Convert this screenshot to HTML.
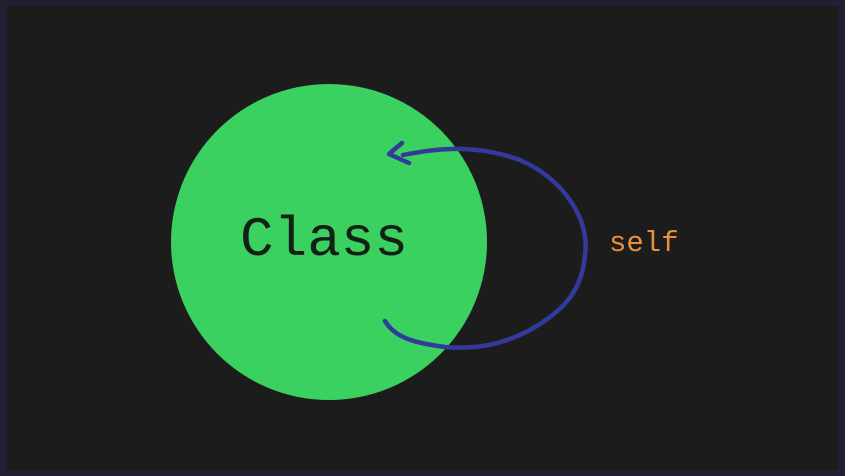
<!DOCTYPE html>
<html><head><style>
html,body{margin:0;padding:0;background:#211e30;width:845px;height:476px;overflow:hidden;}
svg{display:block;}
</style></head><body>
<svg width="845" height="476" xmlns="http://www.w3.org/2000/svg">
<rect x="0" y="0" width="845" height="476" fill="#221f32"/>
<rect x="7" y="6" width="831" height="464" fill="#1c1c1c"/>
<circle cx="329" cy="242" r="158" fill="#3bd160"/>
<text x="324" y="255" font-family="Liberation Mono, monospace" font-size="56" fill="#132015" text-anchor="middle">Class</text>
<text x="609" y="251" font-family="Liberation Mono, monospace" font-size="29" fill="#e8913a">self</text>
<path d="M403,155 C430,150 470,142 520,160 C565,180 590,220 585,255 C582,290 565,310 530,330 C505,343 480,350 445,347 C415,343 395,338 385,321" fill="none" stroke="#333a9a" stroke-width="4.5" stroke-linecap="round"/>
<path d="M402,143 L389,154 L409,163" fill="none" stroke="#333a9a" stroke-width="4.5" stroke-linecap="round" stroke-linejoin="round"/>
</svg>
</body></html>
